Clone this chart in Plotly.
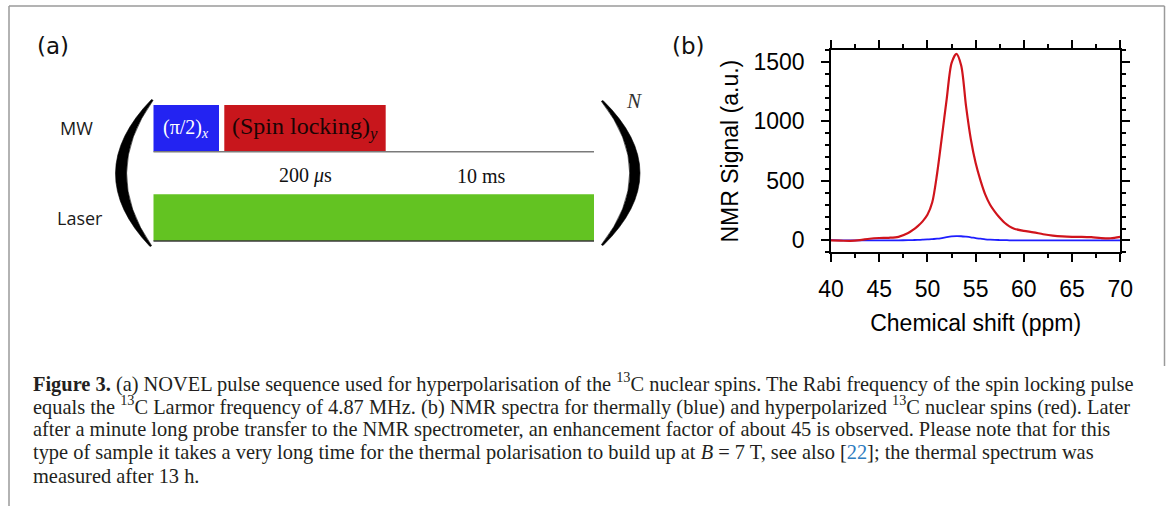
import plotly.graph_objects as go

# ---------------- data: panel (b) NMR spectra ----------------
shift_ppm = [40, 41, 42, 43, 44, 45, 46, 47, 48, 48.5, 49, 49.5, 50, 50.5, 51, 51.5,
             52, 52.5, 53, 53.5, 54, 54.5, 55, 55.5, 56, 56.5, 57, 57.5, 58, 58.5,
             59, 60, 61, 62, 63, 64, 65, 66, 67, 68, 69, 70]
hyperpolarized = [0, -2, -4, 2, 14, 20, 22, 30, 62, 88, 120, 160, 215, 320, 560, 870,
                  1190, 1490, 1568, 1470, 1130, 850, 650, 505, 385, 300, 240, 190, 148, 118,
                  98, 80, 68, 52, 40, 33, 30, 30, 27, 20, 18, 30]
thermal = [2, 1, 0, 0, 0, 0, 1, 1, 2, 3, 4, 6, 8, 11, 14, 20,
           27, 33, 36, 35, 31, 26, 19, 14, 9, 6, 4, 3, 2, 1,
           1, 0, 0, 0, 0, 0, 0, 0, 0, 0, 0, 0]
x_ticks = [40, 45, 50, 55, 60, 65, 70]
y_ticks = [0, 500, 1000, 1500]

# ---------------- data: panel (a) pulse sequence (schematic time units) ----------------
channels = ["MW", "Laser"]
channel_row = [1, 0]
pulse_channel = ["MW", "MW", "Laser"]
pulse_start = [0.0, 1.607, 0.0]
pulse_end = [1.487, 5.271, 10.0]
pulse_label = ["(π/2)<sub><i>x</i></sub>", "(Spin locking)<sub><i>y</i></sub>", ""]
sequence_end = 10.0
time_labels = ["200 <i>μ</i>s", "10 ms"]
time_label_pos = [3.45, 7.45]
repeat_label = "N"

# ---------------- geometry helpers ----------------
W, H = 1171, 506
def fx(px):
    return px / W
def fy(py):
    return 1 - py / H

# schematic axes for panel (a): 1 time unit = 44.05 px, sequence starts at px 153.5
UX, X0PX = 44.05, 153.5
UY, Y1PX = 89.35, 128.35
def ux(px):
    return (px - X0PX) / UX
def uy(py):
    return 1 - (py - Y1PX) / UY
BAR_H = 46.7 / UY

COL = {"blue": "#2323f2", "red": "#c8161c", "green": "#63c322"}
pulse_colors = [COL["blue"], COL["red"], COL["green"]]

fig = go.Figure()

# ---- panel (b) traces ----
fig.add_trace(go.Scatter(x=shift_ppm, y=thermal, mode="lines",
                         line=dict(color="#1e1eff", width=1.8, shape="spline", smoothing=0.8),
                         name="thermal", showlegend=False, hoverinfo="skip"))
fig.add_trace(go.Scatter(x=shift_ppm, y=hyperpolarized, mode="lines",
                         line=dict(color="#d0141c", width=2.2, shape="spline", smoothing=0.8),
                         name="hyperpolarized", showlegend=False, hoverinfo="skip"))

# ---- panel (a) pulses as horizontal bars ----
rows = [channel_row[channels.index(c)] for c in pulse_channel]
fig.add_trace(go.Bar(orientation="h", y=rows,
                     x=[e - s for s, e in zip(pulse_start, pulse_end)],
                     base=pulse_start, width=BAR_H,
                     marker=dict(color=pulse_colors, line=dict(width=0)),
                     xaxis="x2", yaxis="y2", showlegend=False, hoverinfo="skip"))

shapes = []
# baselines of each channel
for r, lc in zip(channel_row, ["#7a7a7a", "#3a3a3a"]):
    shapes.append(dict(type="line", xref="x2", yref="y2", x0=0, x1=sequence_end,
                       y0=r - BAR_H / 2, y1=r - BAR_H / 2, line=dict(color=lc, width=1.5),
                       layer="above"))

# big parentheses
def paren(top, bottom, outer_mid, inner_mid):
    (tx, ty), (bx, by) = top, bottom
    co = 2 * outer_mid - (tx + bx) / 2
    ci = 2 * inner_mid - (tx + bx) / 2
    cy = (ty + by) / 2
    sgn = 1 if outer_mid < tx else -1
    d = sgn * 1.6
    pts = [(tx, ty), (co, cy), (bx, by), (bx + d, by - 0.8), (ci, cy), (tx + d, ty + 0.8)]
    p = [(ux(a), uy(b)) for a, b in pts]
    return (f"M {p[0][0]},{p[0][1]} Q {p[1][0]},{p[1][1]} {p[2][0]},{p[2][1]} "
            f"L {p[3][0]},{p[3][1]} Q {p[4][0]},{p[4][1]} {p[5][0]},{p[5][1]} Z")

for path in [paren((151.5, 99.5), (150.0, 246.5), 115.5, 125.8),
             paren((603.0, 100.5), (603.0, 245.5), 640.0, 630.5)]:
    shapes.append(dict(type="path", xref="x2", yref="y2", path=path,
                       fillcolor="#000000", line=dict(width=0.6, color="#000000")))

# outer frame
frame_col = "#9a9a9a"
shapes += [
    dict(type="line", xref="paper", yref="paper", x0=fx(9), x1=fx(9), y0=fy(6), y1=fy(506),
         line=dict(color=frame_col, width=1.5)),
    dict(type="line", xref="paper", yref="paper", x0=fx(9), x1=fx(1164.5), y0=fy(6), y1=fy(6),
         line=dict(color=frame_col, width=1.5)),
    dict(type="line", xref="paper", yref="paper", x0=fx(1164.5), x1=fx(1164.5), y0=fy(6), y1=fy(366),
         line=dict(color=frame_col, width=1.5)),
]

annotations = []
sans = "Open Sans"
serif = "Liberation Serif"
C = dict(xanchor="center", yanchor="middle", showarrow=False)

annotations.append(dict(text="(a)", xref="paper", yref="paper", x=fx(52.5), y=fy(45.5), **C,
                        font=dict(family="DejaVu Sans", size=23, color="#111")))
annotations.append(dict(text="(b)", xref="paper", yref="paper", x=fx(688), y=fy(46), **C,
                        font=dict(family="DejaVu Sans", size=23, color="#111")))
for ch, r, cx in zip(channels, channel_row, [76.0, 79.5]):
    annotations.append(dict(text=ch, xref="x2", yref="y2", x=ux(cx), y=r, **C,
                            font=dict(family=sans, size=18, color="#1a1a1a")))
for lab, s, e, r, fc, fs in zip(pulse_label, pulse_start, pulse_end, rows,
                                ["#ffffff", "#1a0505", "#000"], [20, 24, 20]):
    if lab:
        annotations.append(dict(text=lab, xref="x2", yref="y2", x=(s + e) / 2, y=r, **C,
                                font=dict(family=serif, size=fs, color=fc)))
for lab, xp in zip(time_labels, time_label_pos):
    annotations.append(dict(text=lab, xref="x2", yref="y2", x=xp, y=0.47, **C,
                            font=dict(family=serif, size=20, color="#111")))
annotations.append(dict(text=f"<i>{repeat_label}</i>", xref="x2", yref="y2", x=ux(633.5), y=uy(100.5),
                        **C, font=dict(family=serif, size=21, color="#333")))

# caption
link = "<span style='color:#2e7cc0'>22</span>"
caption_lines = [
    "<b>Figure 3.</b> (a) NOVEL pulse sequence used for hyperpolarisation of the <sup>13</sup>C nuclear spins. The Rabi frequency of the spin locking pulse",
    "equals the <sup>13</sup>C Larmor frequency of 4.87 MHz. (b) NMR spectra for thermally (blue) and hyperpolarized <sup>13</sup>C nuclear spins (red). Later",
    "after a minute long probe transfer to the NMR spectrometer, an enhancement factor of about 45 is observed. Please note that for this",
    f"type of sample it takes a very long time for the thermal polarisation to build up at <i>B</i> = 7 T, see also [{link}]; the thermal spectrum was",
    "measured after 13 h.",
]
caption_y = [382, 405.5, 429, 452.5, 476]
for line, ypx in zip(caption_lines, caption_y):
    annotations.append(dict(text=line, xref="paper", yref="paper", x=fx(31), y=fy(ypx),
                            xanchor="left", yanchor="middle", showarrow=False,
                            font=dict(family=serif, size=20.4, color="#231f20")))

axis_font = dict(family="Liberation Sans", size=23, color="#000")
fig.update_layout(
    width=W, height=H, margin=dict(l=0, r=0, t=0, b=0, pad=0, autoexpand=False),
    paper_bgcolor="white", plot_bgcolor="rgba(0,0,0,0)",
    barmode="overlay", showlegend=False,
    xaxis=dict(domain=[fx(831), fx(1120.3)], range=[40, 70], tickmode="array", tickvals=x_ticks,
               ticks="outside", ticklen=8, tickwidth=1.5, tickcolor="#000",
               showline=True, linewidth=1.5, linecolor="#000", mirror="allticks",
               minor=dict(dtick=2.5, tick0=40, ticks="outside", ticklen=4, tickwidth=1.5, tickcolor="#000"),
               showgrid=False, zeroline=False, tickfont=axis_font, ticklabelstandoff=7,
               automargin=False,
               title=dict(text="Chemical shift (ppm)", font=dict(family="Liberation Sans", size=23, color="#000"),
                          standoff=14),
               anchor="y"),
    yaxis=dict(domain=[fy(252.3), fy(50)], range=[-100, 1600], tickmode="array", tickvals=y_ticks,
               ticks="outside", ticklen=8, tickwidth=1.5, tickcolor="#000",
               showline=True, linewidth=1.5, linecolor="#000", mirror="allticks",
               minor=dict(dtick=100, tick0=0, ticks="outside", ticklen=4, tickwidth=1.5, tickcolor="#000"),
               showgrid=False, zeroline=False, tickfont=axis_font, ticklabelstandoff=12,
               automargin=False,
               title=dict(text="NMR Signal (a.u.)", font=dict(family="Liberation Sans", size=23, color="#000"),
                          standoff=8),
               anchor="x"),
    xaxis2=dict(domain=[0, 0.56], range=[ux(0), ux(0.56 * W)], visible=False, anchor="y2",
                fixedrange=True, automargin=False),
    yaxis2=dict(domain=[0, 1], range=[uy(H), uy(0)], visible=False, anchor="x2", fixedrange=True,
                automargin=False),
    shapes=shapes, annotations=annotations,
)

fig.write_html("out.html")
